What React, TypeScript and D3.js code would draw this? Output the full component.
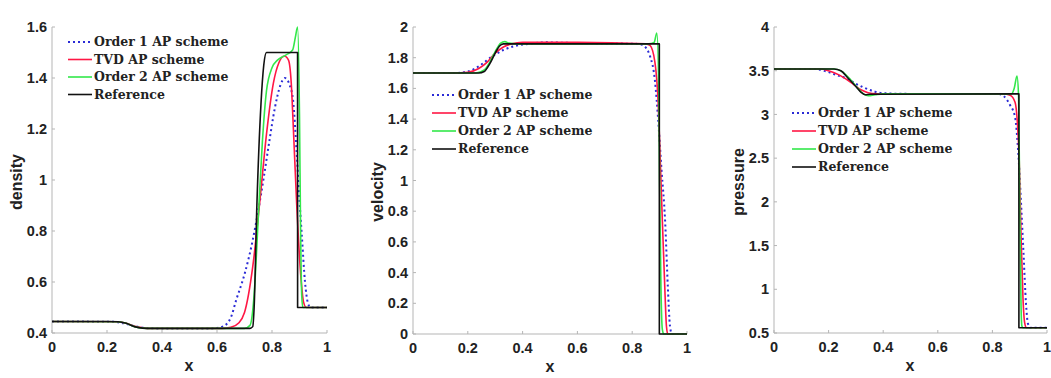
import React from 'react';
import * as d3 from 'd3';

type P = [number, number];

const seriesNames = ['Order 1 AP scheme', 'TVD AP scheme', 'Order 2 AP scheme', 'Reference'];
const xTicks = [0, 0.2, 0.4, 0.6, 0.8, 1];
const densityTicks = [0.4, 0.6, 0.8, 1, 1.2, 1.4, 1.6];
const velocityTicks = [0, 0.2, 0.4, 0.6, 0.8, 1, 1.2, 1.4, 1.6, 1.8, 2];
const pressureTicks = [0.5, 1, 1.5, 2, 2.5, 3, 3.5, 4];

// ---- density ----
const densityOrder1: P[] = [
  [0, 0.445], [0.22, 0.444], [0.26, 0.438], [0.3, 0.427], [0.34, 0.42], [0.38, 0.418], [0.58, 0.418],
  [0.62, 0.425], [0.65, 0.46], [0.67, 0.53], [0.7, 0.63], [0.73, 0.765], [0.75, 0.88], [0.77, 1.01],
  [0.79, 1.15], [0.81, 1.28], [0.83, 1.37], [0.847, 1.4], [0.865, 1.37], [0.877, 1.31], [0.89, 1.1],
  [0.9, 0.92], [0.908, 0.79], [0.92, 0.6], [0.93, 0.52], [0.94, 0.5], [1, 0.5],
];
const densityTVD: P[] = [
  [0, 0.445], [0.24, 0.444], [0.27, 0.438], [0.3, 0.426], [0.33, 0.42], [0.36, 0.418], [0.62, 0.418],
  [0.65, 0.422], [0.68, 0.44], [0.7, 0.48], [0.73, 0.66], [0.756, 0.92], [0.78, 1.18], [0.805, 1.38],
  [0.825, 1.46], [0.845, 1.486], [0.86, 1.47], [0.87, 1.38], [0.877, 1.22], [0.89, 0.9], [0.905, 0.62],
  [0.915, 0.52], [0.925, 0.5], [1, 0.5],
];
const densityOrder2: P[] = [
  [0, 0.445], [0.24, 0.444], [0.27, 0.438], [0.3, 0.425], [0.33, 0.419], [0.36, 0.418], [0.7, 0.418],
  [0.72, 0.43], [0.735, 0.55], [0.75, 0.85], [0.765, 1.15], [0.78, 1.35], [0.8, 1.44], [0.82, 1.47],
  [0.85, 1.49], [0.875, 1.51], [0.885, 1.56], [0.893, 1.6], [0.9, 1.25], [0.904, 0.8], [0.908, 0.55],
  [0.912, 0.5], [1, 0.5],
];
const densityRef: P[] = [
  [0, 0.445], [0.2, 0.445], [0.24, 0.444], [0.27, 0.438], [0.3, 0.425], [0.33, 0.419], [0.36, 0.418],
  [0.72, 0.418], [0.73, 0.425], [0.735, 0.5], [0.745, 0.9], [0.76, 1.3], [0.77, 1.45], [0.78, 1.5],
  [0.893, 1.5], [0.8931, 0.5], [1, 0.5],
];

// ---- velocity ----
const velocityOrder1: P[] = [
  [0, 1.7], [0.15, 1.7], [0.2, 1.71], [0.245, 1.75], [0.29, 1.81], [0.33, 1.85], [0.37, 1.875],
  [0.42, 1.89], [0.48, 1.9], [0.6, 1.895], [0.82, 1.89], [0.84, 1.88], [0.865, 1.81], [0.883, 1.65],
  [0.895, 1.39], [0.907, 1.07], [0.92, 0.74], [0.93, 0.31], [0.938, 0.05], [0.945, 0], [1, 0],
];
const velocityTVD: P[] = [
  [0, 1.7], [0.15, 1.7], [0.2, 1.705], [0.24, 1.73], [0.27, 1.77], [0.3, 1.83], [0.33, 1.87],
  [0.36, 1.89], [0.4, 1.9], [0.6, 1.9], [0.85, 1.89], [0.865, 1.88], [0.883, 1.77], [0.895, 1.5],
  [0.902, 1.15], [0.91, 0.74], [0.918, 0.35], [0.925, 0.05], [0.93, 0], [1, 0],
];
const velocityOrder2: P[] = [
  [0, 1.7], [0.23, 1.7], [0.26, 1.72], [0.28, 1.77], [0.3, 1.84], [0.32, 1.895], [0.335, 1.905],
  [0.35, 1.895], [0.38, 1.89], [0.86, 1.89], [0.88, 1.9], [0.89, 1.96], [0.897, 1.6], [0.9, 1.0],
  [0.905, 0.3], [0.91, 0.03], [0.915, 0], [1, 0],
];
const velocityRef: P[] = [
  [0, 1.7], [0.24, 1.7], [0.26, 1.71], [0.28, 1.76], [0.3, 1.83], [0.315, 1.875], [0.33, 1.89],
  [0.899, 1.89], [0.8991, 0], [1, 0],
];

// ---- pressure ----
const pressureOrder1: P[] = [
  [0, 3.52], [0.15, 3.52], [0.193, 3.49], [0.23, 3.45], [0.266, 3.41], [0.3, 3.35], [0.327, 3.31],
  [0.37, 3.26], [0.42, 3.24], [0.5, 3.235], [0.82, 3.235], [0.845, 3.2], [0.864, 3.11], [0.883, 2.97],
  [0.895, 2.55], [0.905, 1.98], [0.914, 1.41], [0.923, 0.84], [0.93, 0.61], [0.94, 0.56], [1, 0.56],
];
const pressureTVD: P[] = [
  [0, 3.52], [0.17, 3.52], [0.2, 3.5], [0.24, 3.45], [0.28, 3.37], [0.32, 3.28], [0.36, 3.24],
  [0.4, 3.235], [0.84, 3.235], [0.865, 3.22], [0.883, 3.14], [0.891, 2.93], [0.898, 2.5], [0.905, 1.6],
  [0.912, 0.9], [0.918, 0.62], [0.925, 0.56], [1, 0.56],
];
const pressureOrder2: P[] = [
  [0, 3.52], [0.22, 3.52], [0.25, 3.49], [0.28, 3.4], [0.31, 3.29], [0.33, 3.23], [0.345, 3.215],
  [0.37, 3.225], [0.4, 3.235], [0.87, 3.235], [0.88, 3.3], [0.89, 3.44], [0.896, 3.2], [0.9, 2.0],
  [0.905, 0.8], [0.908, 0.58], [0.912, 0.56], [1, 0.56],
];
const pressureRef: P[] = [
  [0, 3.52], [0.22, 3.52], [0.245, 3.5], [0.27, 3.42], [0.3, 3.32], [0.32, 3.25], [0.335, 3.225],
  [0.35, 3.23], [0.897, 3.235], [0.8971, 0.56], [1, 0.56],
];

const colors = ['#2b2bd6', '#ff1744', '#33e84a', '#111111'];

type Panel = {
  x0: number; x1: number; yTop: number; yBot: number;
  yDomain: [number, number]; yTicks: number[]; yLabel: string; yLabelX: number; yLabelY: number;
  xLabelX: number; legX: number; legY: number; legDy: number;
  series: P[][];
};

const panels: Panel[] = [
  {
    x0: 52, x1: 327, yTop: 27, yBot: 333, yDomain: [0.4, 1.6], yTicks: densityTicks,
    yLabel: 'density', yLabelX: 16, yLabelY: 182, xLabelX: 189, legX: 68, legY: 42, legDy: 17.5,
    series: [densityOrder1, densityTVD, densityOrder2, densityRef],
  },
  {
    x0: 413, x1: 687, yTop: 27, yBot: 334, yDomain: [0, 2], yTicks: velocityTicks,
    yLabel: 'velocity', yLabelX: 377, yLabelY: 192, xLabelX: 550, legX: 432, legY: 95, legDy: 18,
    series: [velocityOrder1, velocityTVD, velocityOrder2, velocityRef],
  },
  {
    x0: 774, x1: 1047, yTop: 27, yBot: 333, yDomain: [0.5, 4], yTicks: pressureTicks,
    yLabel: 'pressure', yLabelX: 738, yLabelY: 182, xLabelX: 910, legX: 792, legY: 113, legDy: 18,
    series: [pressureOrder1, pressureTVD, pressureOrder2, pressureRef],
  },
];

const tickFont = '"Liberation Sans", Arial, sans-serif';
const legendFont = '"DejaVu Serif", serif';

function PanelView({ p }: { p: Panel }) {
  const x = d3.scaleLinear().domain([0, 1]).range([p.x0, p.x1]);
  const y = d3.scaleLinear().domain(p.yDomain).range([p.yBot, p.yTop]);
  const line = d3.line<P>().x(d => x(d[0])).y(d => y(d[1])).curve(d3.curveMonotoneX);
  const axisColor = '#b5b5b5';
  return (
    <g>
      <line x1={p.x0} x2={p.x0} y1={p.yTop} y2={p.yBot} stroke={axisColor} strokeWidth={1} />
      <line x1={p.x0} x2={p.x1} y1={p.yBot} y2={p.yBot} stroke={axisColor} strokeWidth={1} />
      {p.yTicks.map(t => (
        <g key={'y' + t}>
          <line x1={p.x0} x2={p.x0 + 3} y1={y(t)} y2={y(t)} stroke={axisColor} />
          <text x={p.x0 - 5} y={y(t)} dy="0.35em" textAnchor="end" fontFamily={tickFont}
            fontWeight="bold" fontSize={14.5} fill="#222">{String(t)}</text>
        </g>
      ))}
      {xTicks.map(t => (
        <g key={'x' + t}>
          <line x1={x(t)} x2={x(t)} y1={p.yBot} y2={p.yBot - 3} stroke={axisColor} />
          <text x={x(t)} y={p.yBot + 19} textAnchor="middle" fontFamily={tickFont}
            fontWeight="bold" fontSize={14.5} fill="#222">{String(t)}</text>
        </g>
      ))}
      <text x={p.xLabelX} y={p.yBot + 38} textAnchor="middle" fontFamily={tickFont}
        fontWeight="bold" fontSize={16} fill="#222">x</text>
      <text transform={`translate(${p.yLabelX},${p.yLabelY}) rotate(-90)`} dy="0.35em" textAnchor="middle"
        fontFamily={tickFont} fontWeight="bold" fontSize={16} fill="#222">{p.yLabel}</text>
      {p.series.map((s, i) => (
        <path key={i} d={line(s) || ''} fill="none" stroke={colors[i]}
          strokeWidth={i === 0 ? 2 : 1.6}
          strokeDasharray={i === 0 ? '2,3' : undefined} strokeLinejoin="round" />
      ))}
      {seriesNames.map((n, i) => {
        const ly = p.legY + i * p.legDy;
        return (
          <g key={n}>
            <line x1={p.legX} x2={p.legX + 24} y1={ly} y2={ly} stroke={colors[i]}
              strokeWidth={i === 0 ? 2 : 1.6} strokeDasharray={i === 0 ? '2,3' : undefined} />
            <text x={p.legX + 26} y={ly} dy="0.35em" fontFamily={legendFont} fontWeight="bold"
              fontSize={12.5} fill="#222">{n}</text>
          </g>
        );
      })}
    </g>
  );
}

export default function App() {
  return (
    <svg width={1051} height={378} style={{ position: 'absolute', left: 0, top: 0, background: '#fff' }}>
      <rect width={1051} height={378} fill="#fff" />
      {panels.map((p, i) => <PanelView key={i} p={p} />)}
    </svg>
  );
}
